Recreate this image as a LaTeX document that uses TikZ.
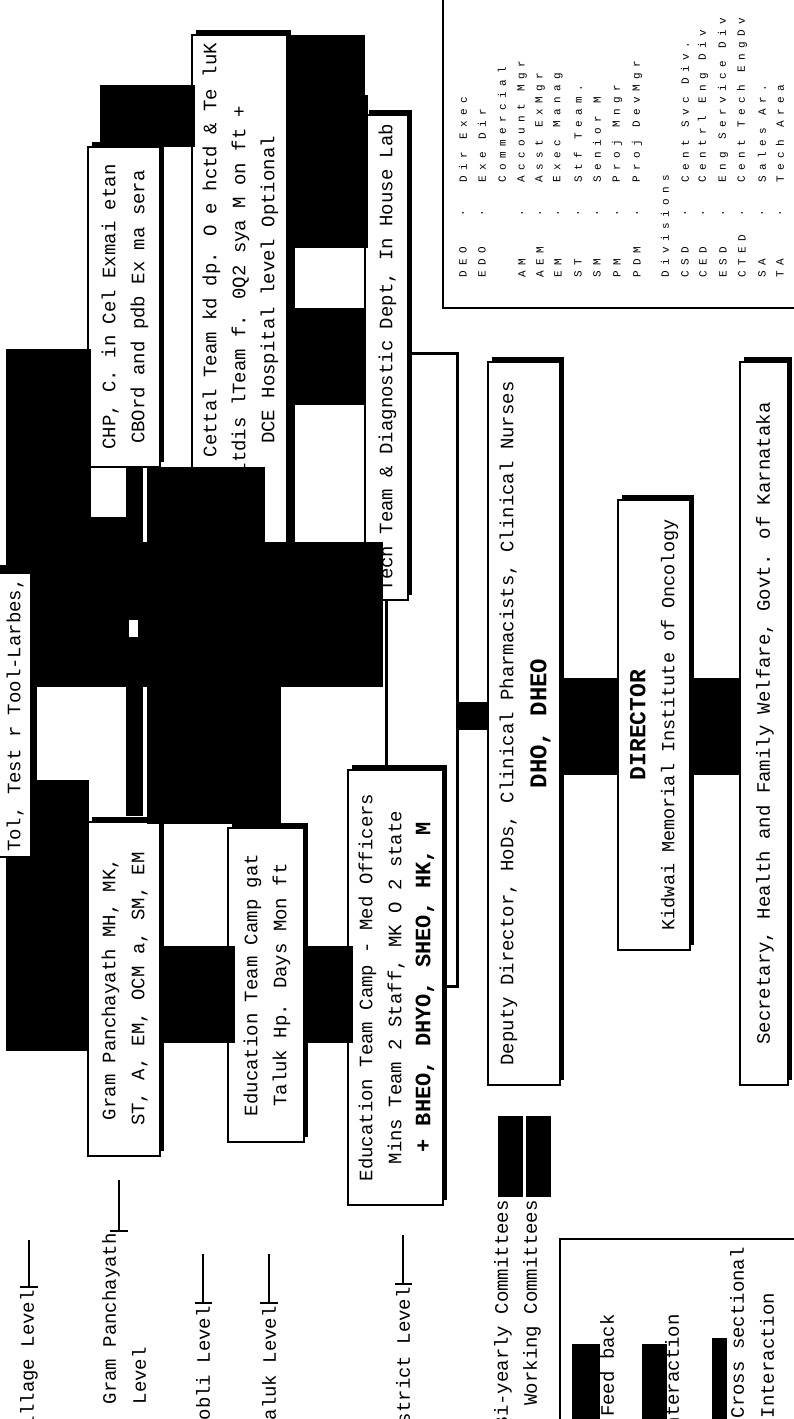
\documentclass[tikz,border=0pt]{standalone}
\usepackage{fontspec}
\usepackage{graphicx}
\usetikzlibrary{shadows}
\setmainfont{Liberation Sans}
\newfontfamily\bxf{Liberation Mono}
\newfontfamily\lgf[LetterSpace=50]{Liberation Mono}
\newcommand{\rt}[1]{\rotatebox{90}{\begin{tabular}{@{}c@{}}#1\end{tabular}}}
\tikzset{
  bx/.style={draw=black, line width=1.2pt, fill=white, inner sep=0pt,
    font=\bxf\fontsize{19}{29}\selectfont,
    drop shadow={shadow xshift=4pt, shadow yshift=5pt, fill=black, opacity=1}},
  lg/.style={rotate=90, inner sep=0pt, font=\lgf\fontsize{11}{13}\selectfont},
  lvl/.style={rotate=90, inner sep=0pt, align=left, font=\bxf\fontsize{19}{30}\selectfont},
  lvlline/.style={line width=2.5pt},
  bus/.style={line width=3pt},
}
\begin{document}
\begin{tikzpicture}[x=1pt, y=-1pt]
\useasboundingbox (0,0) rectangle (794,1419);
\fill[white] (0,0) rectangle (794,1419);

% ---------- legend top right ----------
\draw[line width=2pt] (443,-10) rectangle (810,308);
\foreach \x/\a/\d in {463/DEO/Dir Exec, 482/EDO/Exe Dir, 522/AM/Account Mgr, 540/AEM/Asst ExMgr, 558/EM/Exec Manag, 578/ST/Stf Team., 597/SM/Senior M, 617/PM/Proj Mngr, 637/PDM/Proj DevMgr}{
  \node[lg, anchor=west] (ab\x) at (\x,278) {\a};
  \node[lg] (dt\x) at (\x,213) {.};
  \node[lg, anchor=west] (de\x) at (\x,183) {\d};
}
\node[lg, anchor=west] (de502) at (502,183) {Commercial};
\node[lg, anchor=west] (hdr) at (665,278) {Divisions};
\foreach \x/\a/\d in {685/CSD/Cent Svc Div., 703/CED/Centrl Eng Div, 723/ESD/Eng Service Div, 742/CTED/Cent Tech EngDv, 762/SA/Sales Ar., 780/TA/Tech Area}{
  \node[lg, anchor=west] (rb\x) at (\x,278) {\a};
  \node[lg] (rt\x) at (\x,213) {.};
  \node[lg, anchor=west] (rd\x) at (\x,183) {\d};
}

% ---------- boxes ----------
\node[bx, minimum width=95pt, minimum height=510pt] (B) at (239.5,290)
  {\rt{C BOrd Cettal Team kd dp. O e hctd \& Te luK\\itdis lTeam f. 0Q2 sya M on ft +\\DCE Hospital level Optional}};
\node[bx, minimum width=72pt, minimum height=320pt] (A) at (124,307)
  {\rt{CHP, C. in Cel Exmai etan\\CBOrd and pdb Ex ma sera}};
\node[bx, minimum width=43pt, minimum height=485pt] (C) at (386.5,357.5)
  {\rt{Tech Team \& Diagnostic Dept, In House Lab}};
\node[bx, minimum width=33pt, minimum height=284pt] (D) at (14.5,715)
  {\rt{Tol, Test r Tool-Larbes,}};
\node[bx, minimum width=72pt, minimum height=334pt] (F) at (124,989)
  {\rt{Gram Panchayath MH, MK,\\ST, A, EM, OCM a, SM, EM}};
\node[bx, minimum width=76pt, minimum height=314pt] (G) at (266,985)
  {\rt{Education Team Camp gat\\Taluk Hp. Days Mon ft}};
\node[bx, minimum width=95pt, minimum height=435pt] (H) at (395.5,987.5)
  {\rt{Education Team Camp - Med Officers\\Mins Team 2 Staff, MK O 2 state\\{\bfseries\fontsize{22}{29}\selectfont + BHEO, DHYO, SHEO, HK, M}}};
\node[bx, minimum width=72pt, minimum height=723pt] (I) at (524,723.5)
  {\rt{Deputy Director, HoDs, Clinical Pharmacists, Clinical Nurses\\[4pt]{\bfseries\fontsize{24}{29}\selectfont DHO, DHEO}}};
\node[bx, minimum width=72pt, minimum height=450pt] (J) at (654,725)
  {\rt{{\bfseries\fontsize{23}{29}\selectfont DIRECTOR}\\{\fontsize{18.5}{29}\selectfont Kidwai Memorial Institute of Oncology}}};
\node[bx, minimum width=48pt, minimum height=723pt] (K) at (764,723.5)
  {\rt{Secretary, Health and Family Welfare, Govt. of Karnataka}};

% ---------- black masses ----------
\fill (100,85) rectangle (195,147);
\fill (287,35) rectangle (365,248);
\fill (365,95) rectangle (368,248);
\fill (287,248) rectangle (295,542);
\fill (287,308) rectangle (365,405);
\fill (6,349) rectangle (91,565);
\fill (0,565) rectangle (31,573);
\fill (31,517) rectangle (126,542);
\fill (126,467) rectangle (143,816);
\fill (147,467) rectangle (265,542);
\fill (31,542) rectangle (383,687);
\fill[white] (129,620) rectangle (138,637);
\fill (31,687) rectangle (37,780);
\fill (31,780) rectangle (89,857);
\fill (6,857) rectangle (88,1051);
\fill (147,687) rectangle (281,824);

% ---------- connectors ----------
\fill (F.east |- 0,946) rectangle (235,1043);
\fill (G.east |- 0,946) rectangle (353,1043);
\draw[line width=2.5pt] (C.south) -- (C.south |- H.north);
\coordinate (bt) at (457,353);
\coordinate (bb) at (457,986);
\draw[bus] (C.east |- bt) -- (bt) -- (bb) -- (H.east |- bb);
\fill (455.5,702) rectangle (I.west |- 0,730);
\fill (I.east |- 0,678) rectangle (J.west |- 0,775);
\fill (J.east |- 0,678) rectangle (K.west |- 0,775);

% ---------- level labels ----------
\node[lvl, anchor=east] (l1) at (29,1290) {Village Level};
\draw[lvlline] (29,1240) -- (29,1287);
\draw[lvlline] (20,1287) -- (38,1287);
\node[lvl, anchor=north east] (l2) at (102,1233) {Gram Panchayath\\Level};
\draw[lvlline] (119,1180) -- (119,1231);
\draw[lvlline] (110,1231) -- (128,1231);
\node[lvl, anchor=east] (l3) at (203,1306) {Hobli Level};
\draw[lvlline] (203,1254) -- (203,1303);
\draw[lvlline] (195,1303) -- (212,1303);
\node[lvl, anchor=east] (l4) at (269,1306) {Taluk Level};
\draw[lvlline] (269,1254) -- (269,1303);
\draw[lvlline] (260,1303) -- (278,1303);
\node[lvl, anchor=east] (l5) at (403,1287) {District Level};
\draw[lvlline] (403,1235) -- (403,1284);
\draw[lvlline] (395,1284) -- (412,1284);

% ---------- committees legend ----------
\fill (498,1116) rectangle (523,1197);
\node[lvl, anchor=east] (c1) at (503,1200) {Bi-yearly Committees};
\fill (526,1116) rectangle (551,1197);
\node[lvl, anchor=east] (c2) at (532,1200) {Working Committees};

% ---------- bottom right legend ----------
\draw[line width=2pt] (560,1239) rectangle (810,1430);
\fill (572,1344) rectangle (600,1430);
\node[lvl, anchor=east] (k1) at (607,1314) {Feed back};
\fill (642,1344) rectangle (667,1430);
\node[lvl, anchor=east] (k2) at (672,1314) {Interaction};
\fill (712,1338) rectangle (727,1430);
\node[lvl, anchor=north east] (k3) at (730,1247) {Cross sectional\\Interaction};
\end{tikzpicture}
\end{document}
